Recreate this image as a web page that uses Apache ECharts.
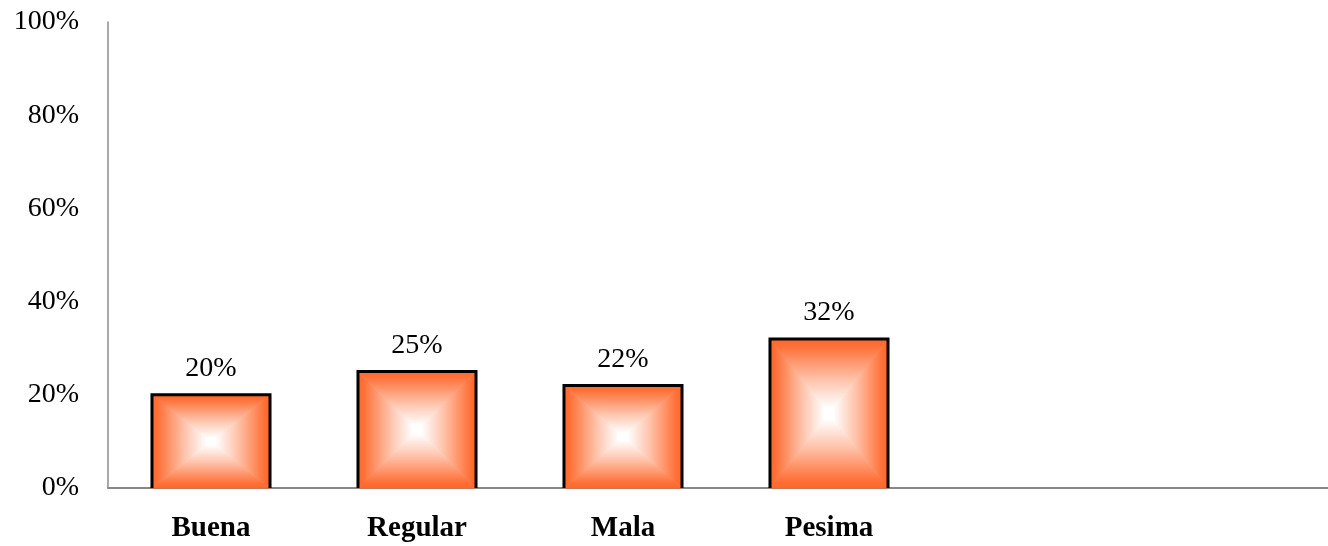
<!DOCTYPE html>
<html>
<head>
<meta charset="utf-8">
<script src="https://cdn.jsdelivr.net/npm/echarts@6/dist/echarts.min.js"></script>
<style>html,body{margin:0;padding:0;background:#fff}#c{width:1328px;height:546px}</style>
</head>
<body>
<div id="c"></div>
<script>
const categories = ['Buena', 'Regular', 'Mala', 'Pesima', '', ''];
const values = [20, 25, 22, 32];
const yTicks = [0, 20, 40, 60, 80, 100];

const FONT = '"Liberation Serif", "DejaVu Serif", serif';
const ORANGE = '#FF6628';

const chart = echarts.init(document.getElementById('c'));
function grad(x, y, x2, y2) {
  return new echarts.graphic.LinearGradient(x, y, x2, y2, [
    { offset: 0, color: ORANGE },
    { offset: 0.1, color: '#FF6F36' },
    { offset: 0.55, color: '#FFC3AB' },
    { offset: 0.92, color: '#FFFFFF' },
    { offset: 1, color: '#FFFFFF' }
  ]);
}
chart.setOption({
  animation: false,
  grid: { left: 108, width: 1236, top: 22, bottom: 58, containLabel: false, outerBoundsMode: 'none' },
  xAxis: {
    type: 'category',
    data: categories,
    axisTick: { show: false },
    axisLine: { lineStyle: { color: '#888888', width: 2 } },
    axisLabel: { fontFamily: FONT, fontSize: 29, fontWeight: 'bold', color: '#000', margin: 26 }
  },
  yAxis: {
    type: 'value',
    min: yTicks[0], max: yTicks[yTicks.length - 1], interval: 20,
    splitLine: { show: false },
    axisTick: { show: false },
    axisLine: { show: true, lineStyle: { color: '#8C8C8C', width: 1.5 } },
    axisLabel: { fontFamily: FONT, fontSize: 28, color: '#000', margin: 29, formatter: '{value}%' }
  },
  series: [{
    type: 'custom',
    data: values.map((v, i) => [i, v]),
    encode: { x: 0, y: 1 },
    renderItem: function (params, api) {
      const cat = api.value(0), val = api.value(1);
      const top = api.coord([cat, val]);
      const base = api.coord([cat, 0]);
      const bw = api.size([1, 0])[0] * 0.573;
      const x0 = top[0] - bw / 2, x1 = top[0] + bw / 2, y0 = top[1], y1 = base[1];
      const cx = top[0], cy = (y0 + y1) / 2;
      function tri(pts, g) {
        return { type: 'polygon', shape: { points: pts }, style: { fill: g, stroke: g, lineWidth: 1 } };
      }
      return {
        type: 'group',
        children: [
          tri([[x0, y0], [x1, y0], [cx, cy]], grad(0, 0, 0, 1)),
          tri([[x0, y1], [x1, y1], [cx, cy]], grad(0, 1, 0, 0)),
          tri([[x0, y0], [x0, y1], [cx, cy]], grad(0, 0, 1, 0)),
          tri([[x1, y0], [x1, y1], [cx, cy]], grad(1, 0, 0, 0)),
          { type: 'polyline', shape: { points: [[x0, y1], [x0, y0], [x1, y0], [x1, y1]] }, style: { stroke: '#000', lineWidth: 3, fill: null } },
          { type: 'text', x: cx, y: y0 - 12, style: { text: val + '%', font: '28px ' + FONT, fill: '#000', align: 'center', verticalAlign: 'bottom' } }
        ]
      };
    }
  }]
});
</script>
</body>
</html>
